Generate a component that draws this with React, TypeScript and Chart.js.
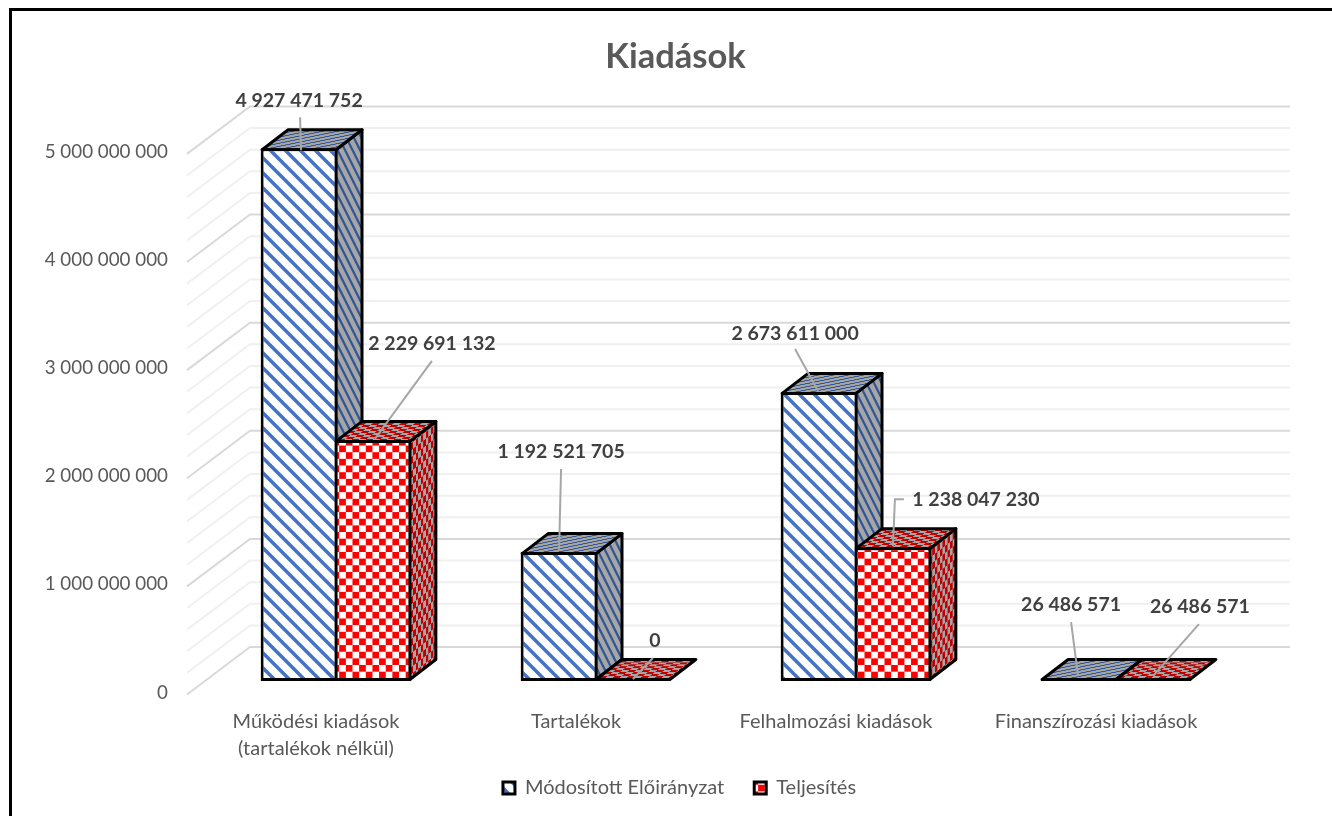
import React, { useEffect, useRef } from "react";
import { Chart, registerables } from "chart.js";

Chart.register(...registerables);

const categories = [
  ["Működési kiadások", "(tartalékok nélkül)"],
  "Tartalékok",
  "Felhalmozási kiadások",
  "Finanszírozási kiadások",
];
const modositott = [4927471752, 1192521705, 2673611000, 26486571];
const teljesites = [2229691132, 0, 1238047230, 26486571];
const seriesNames = ["Módosított Előirányzat", "Teljesítés"];

const FONT = "Lato, 'Open Sans', sans-serif";
const GREY = "#595959";

// data label placement relative to the top-centre of each bar's front face
const labelSpec0 = [
  { lx: 0, ly: -48, path: [[1, -31], [2, 2]] },
  { lx: 2, ly: -100, path: [[2, -83], [0, -2]] },
  { lx: -24, ly: -58, path: [[-24, -43], [-1, -1]] },
  { lx: -8, ly: -73, path: [[-8, -56], [-1, -2]] },
];
const labelSpec1 = [
  { lx: 59, ly: -96, path: [[59, -79], [2, -1]] },
  { lx: 22, ly: -40, path: [[20, -23], [0, -2]] },
  { lx: 83, ly: -47, path: [[11, -48], [2, -48], [0, -1]] },
  { lx: 47, ly: -71, path: [[46, -54], [0, -2]] },
];

const DX = 26; // bar depth offset on screen
const DY = -20;
const WALL = { front: -19, back: 44, right: 44, frontY: 13.5, backY: -34 };

function fmt(v: number) {
  return String(v).replace(/\B(?=(\d{3})+$)/g, " ");
}

function stripe(fg: string, bg: string, p: number, w: number) {
  const c = document.createElement("canvas");
  c.width = p;
  c.height = p;
  const x = c.getContext("2d")!;
  x.fillStyle = bg;
  x.fillRect(0, 0, p, p);
  x.strokeStyle = fg;
  x.lineWidth = w;
  for (let i = -p; i <= p; i += p) {
    x.beginPath();
    x.moveTo(i - 2, -2);
    x.lineTo(i + p + 2, p + 2);
    x.stroke();
  }
  return c;
}
function check(fg: string, bg: string, s: number) {
  const c = document.createElement("canvas");
  c.width = s * 2;
  c.height = s * 2;
  const x = c.getContext("2d")!;
  x.fillStyle = bg;
  x.fillRect(0, 0, s * 2, s * 2);
  x.fillStyle = fg;
  x.fillRect(0, 0, s, s);
  x.fillRect(s, s, s, s);
  return c;
}

const App = () => {
  const ref = useRef<HTMLCanvasElement>(null);
  useEffect(() => {
    document.body.style.margin = "0";
    document.body.style.overflow = "hidden";
    const ctx = ref.current!.getContext("2d")!;
    const pat = (src: HTMLCanvasElement, m?: number[]) => {
      const p = ctx.createPattern(src, "repeat")!;
      if (m) p.setTransform(new DOMMatrix(m));
      return p;
    };
    const sideM = [0.36, -0.28, 0, 1, 0, 0];
    const topM = [1, 0, 0.36, -0.28, 0, 0];
    const blueFront = pat(stripe("#4472C4", "#ffffff", 15, 3.5));
    const redFront = pat(check("#FF0000", "#ffffff", 7), [0.95, 0, 0, 0.95, 0, 0]);
    const faces = [
      {
        side: pat(stripe("#2F5597", "#A6A6A6", 15, 3.5), sideM),
        top: pat(stripe("#2F5597", "#A6A6A6", 15, 3.5), topM),
      },
      {
        side: pat(check("#C00000", "#A6A6A6", 7), sideM),
        top: pat(check("#C00000", "#A6A6A6", 7), topM),
      },
    ];

    const scene = {
      id: "scene3d",
      afterLayout(chart: any) {
        // let the wide value labels extend past the narrow axis boxes
        chart.scales.y.left = 0;
        chart.scales.x.bottom = chart.height;
        chart.legend.left += 4;
        chart.legend.right += 4;
      },
      beforeDatasetsDraw(chart: any) {
        const c = chart.ctx;
        const y = chart.scales.y;
        const { left, right } = chart.chartArea;
        c.save();
        y.ticks.forEach((t: any) => {
          const py = y.getPixelForValue(t.value);
          const major = t.value % 1e9 === 0;
          c.strokeStyle = major ? "#D9D9D9" : "#F0F0F0";
          c.lineWidth = 2;
          c.beginPath();
          c.moveTo(left + WALL.front, py + WALL.frontY);
          c.lineTo(left + WALL.back, py + WALL.backY);
          c.lineTo(right + WALL.right, py + WALL.backY);
          c.stroke();
        });
        c.lineJoin = "round";
        c.lineWidth = 3;
        c.strokeStyle = "#000";
        chart.data.labels.forEach((_: any, i: number) => {
          [0, 1].forEach((d) => {
            const b = chart.getDatasetMeta(d).data[i];
            const l = b.x - b.width / 2 + 1.5;
            const r = b.x + b.width / 2 - 1.5;
            const bot = b.base - 1.5;
            const top = Math.min(b.y + 1.5, bot);
            const poly = (pts: number[][], fill: any) => {
              c.beginPath();
              pts.forEach((p, k) => (k ? c.lineTo(p[0], p[1]) : c.moveTo(p[0], p[1])));
              c.closePath();
              c.fillStyle = fill;
              c.fill();
              c.stroke();
            };
            if (bot > top) poly([[r, top], [r + DX, top + DY], [r + DX, bot + DY], [r, bot]], faces[d].side);
            poly([[l, top], [r, top], [r + DX, top + DY], [l + DX, top + DY]], faces[d].top);
          });
        });
        c.restore();
      },
      afterDatasetsDraw(chart: any) {
        const c = chart.ctx;
        c.save();
        [modositott, teljesites].forEach((vals, d) => {
          vals.forEach((v, i) => {
            const b = chart.getDatasetMeta(d).data[i];
            const spec = d === 0 ? labelSpec0[i] : labelSpec1[i];
            c.strokeStyle = "#A6A6A6";
            c.lineWidth = 2;
            c.beginPath();
            spec.path.forEach((p: number[], k: number) =>
              k ? c.lineTo(b.x + p[0], b.y + p[1]) : c.moveTo(b.x + p[0], b.y + p[1])
            );
            c.stroke();
            c.fillStyle = "#404040";
            c.font = `bold 19.5px ${FONT}`;
            c.textAlign = "center";
            c.textBaseline = "middle";
            c.fillText(fmt(v), b.x + spec.lx, b.y + spec.ly);
          });
        });
        c.restore();
      },
    };

    const chart = new Chart(ctx, {
      type: "bar",
      data: {
        labels: categories,
        datasets: [
          {
            label: seriesNames[0],
            data: modositott,
            backgroundColor: blueFront,
            borderColor: "#000",
            borderWidth: 3,
            borderSkipped: false,
          },
          {
            label: seriesNames[1],
            data: teljesites,
            backgroundColor: redFront,
            borderColor: "#000",
            borderWidth: 3,
            borderSkipped: false,
          },
        ],
      } as any,
      options: {
        responsive: false,
        animation: false,
        layout: { padding: { left: 105, right: 86, top: 18, bottom: 8 } },
        datasets: { bar: { categoryPercentage: 147.7 / 260, barPercentage: 76.85 / 73.85 } },
        plugins: {
          tooltip: { enabled: false },
          title: {
            display: true,
            text: "Kiadások",
            color: GREY,
            font: { family: FONT, size: 34.5, weight: "bold" },
            padding: { top: 18, bottom: 63 },
          },
          legend: {
            position: "bottom",
            labels: {
              color: GREY,
              font: { family: FONT, size: 20 },
              boxWidth: 12,
              boxHeight: 12,
              padding: 30,
            },
          },
        },
        scales: {
          x: {
            grid: { display: false, drawTicks: false },
            border: { display: false },
            ticks: {
              color: GREY,
              font: { family: FONT, size: 20, lineHeight: 1.35 },
              maxRotation: 0,
              autoSkip: false,
              labelOffset: -20,
              padding: 27.5,
            },
            afterFit: (s: any) => {
              s.height = 67;
            },
          },
          y: {
            min: 0,
            max: 5000000000,
            grid: { display: false, drawTicks: false },
            border: { display: false },
            ticks: {
              stepSize: 200000000,
              autoSkip: false,
              color: GREY,
              font: { family: FONT, size: 18.8 },
              padding: 38,
              labelOffset: 11.5,
              callback: (v: any) => (Number(v) % 1e9 === 0 ? fmt(Number(v)) : ""),
            },
            afterFit: (s: any) => {
              s.width = 101;
            },
          },
        },
      } as any,
      plugins: [scene],
    });
    return () => chart.destroy();
  }, []);
  return (
    <div style={{ position: "relative", width: 1332, height: 816, overflow: "hidden", background: "#fff" }}>
      <canvas ref={ref} width={1332} height={816} style={{ position: "absolute", left: 0, top: 0 }} />
      <div
        style={{
          position: "absolute",
          left: 9,
          top: 8,
          width: 2000,
          height: 2000,
          border: "3px solid #000",
          pointerEvents: "none",
        }}
      />
    </div>
  );
};

export default App;
